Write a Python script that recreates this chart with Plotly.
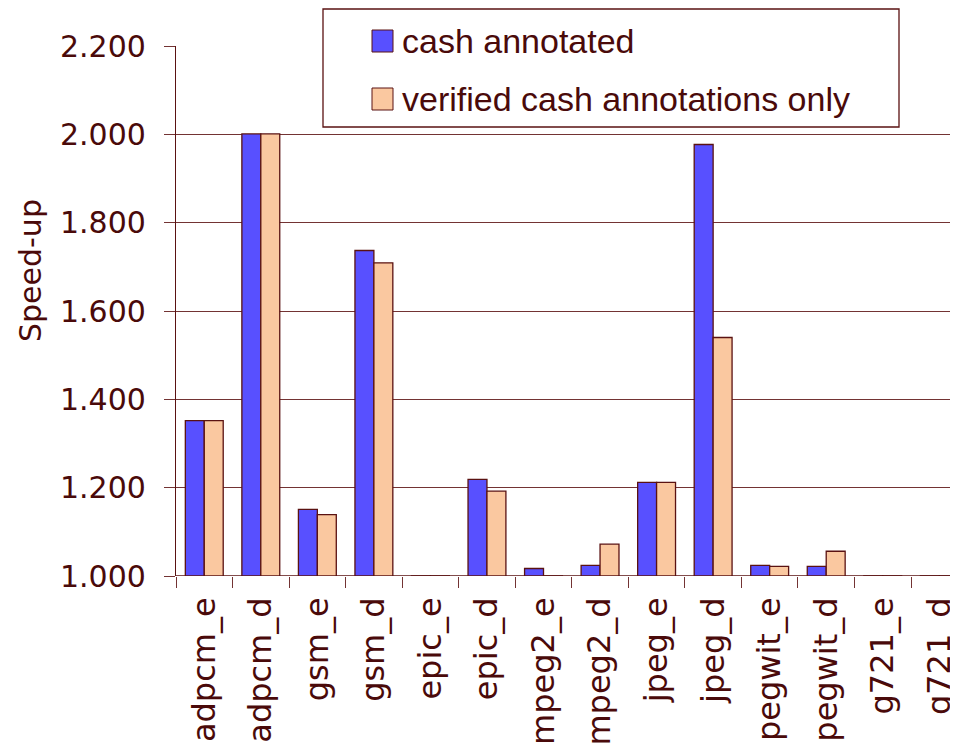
import plotly.graph_objects as go

categories = ["adpcm_e", "adpcm_d", "gsm_e", "gsm_d", "epic_e", "epic_d", "mpeg2_e",
              "mpeg2_d", "jpeg_e", "jpeg_d", "pegwit_e", "pegwit_d", "g721_e", "g721_d"]
cash_annotated = [1.352, 2.001, 1.151, 1.737, 1.000, 1.219, 1.017,
                  1.024, 1.212, 1.977, 1.024, 1.022, 1.000, 1.000]
verified_only = [1.352, 2.001, 1.139, 1.709, 1.000, 1.192, 1.000,
                 1.072, 1.212, 1.540, 1.022, 1.056, 1.000, 1.000]
series_names = ["cash annotated", "verified cash annotations only"]
y_ticks = [1.0, 1.2, 1.4, 1.6, 1.8, 2.0, 2.2]

TXT = "#4a0a0a"
LINE = "#5a1212"
GRID = "#733333"
BLUE = "#5850ff"
PEACH = "#fac8a0"

# page offset of the figure inside the browser page (default body margin)
OFF = 8
W, H = 958, 747
ML, MT = 176 - OFF, 46 - OFF
MB = H - (576 - OFF)
MR = 0
PW, PH = W - ML - MR, H - MT - MB


def px_x(sx):
    return (sx - OFF - ML) / PW


def px_y(sy):
    return (H - MB - (sy - OFF)) / PH


fig = go.Figure()
fig.add_trace(go.Bar(x=categories, y=cash_annotated, name=series_names[0],
                     marker=dict(color=BLUE, line=dict(color=LINE, width=1.3)),
                     showlegend=False))
fig.add_trace(go.Bar(x=categories, y=verified_only, name=series_names[1],
                     marker=dict(color=PEACH, line=dict(color=LINE, width=1.3)),
                     showlegend=False))

fig.update_layout(
    width=W, height=H,
    margin=dict(l=ML, r=MR, t=MT, b=MB, autoexpand=False),
    paper_bgcolor="white", plot_bgcolor="white",
    barmode="group", bargap=0.33, bargroupgap=0,
    font=dict(family="Liberation Sans, Arial, sans-serif", color=TXT, size=26),
    showlegend=False,
    xaxis=dict(type="category", range=[-0.5, -0.5 + PW / 56.54], tickson="boundaries",
               automargin=False,
               ticks="outside", ticklen=11, tickcolor=GRID, tickwidth=1.2,
               tickangle=-90, showgrid=False, showline=False,
               ticklabelstandoff=14,
               tickfont=dict(size=32, color=TXT, family="DejaVu Sans, sans-serif")),
    yaxis=dict(range=[1.0, 2.2], tickvals=y_ticks, tickformat=".3f",
               automargin=False,
               ticks="outside", ticklen=11, tickcolor=GRID, tickwidth=1.2,
               showgrid=True, gridcolor=GRID, gridwidth=1.2,
               showline=True, linecolor=LINE, linewidth=1.3,
               zeroline=False, ticklabelstandoff=12,
               tickfont=dict(size=30, color=TXT, family="DejaVu Sans, sans-serif")),
)
# legend frame
fig.add_shape(type="rect", xref="paper", yref="paper",
              x0=px_x(323), x1=px_x(899), y0=px_y(127), y1=px_y(9),
              fillcolor="white", line=dict(color=LINE, width=1.3), layer="above")
# legend entries
for i, (name, col) in enumerate(zip(series_names, [BLUE, PEACH])):
    top = 30 + i * 58
    fig.add_shape(type="rect", xref="paper", yref="paper",
                  x0=px_x(372), x1=px_x(393), y0=px_y(top + 22), y1=px_y(top),
                  fillcolor=col, line=dict(color=LINE, width=1), layer="above")
    fig.add_annotation(text=name, xref="paper", yref="paper",
                       x=px_x(400), y=px_y(top + 11), showarrow=False,
                       xanchor="left", yanchor="middle",
                       font=dict(size=34, color=TXT,
                                 family="Liberation Sans, Arial, sans-serif"))
# baseline axis line
fig.add_shape(type="line", xref="paper", yref="y", x0=0, x1=1, y0=1.0, y1=1.0,
              line=dict(color=LINE, width=1.5), layer="above")
# y-axis title
fig.add_annotation(text="Speed-up", xref="paper", yref="paper",
                   x=px_x(30), y=px_y(271), textangle=-90, showarrow=False,
                   xanchor="center", yanchor="middle",
                   font=dict(size=30, color=TXT, family="DejaVu Sans, sans-serif"))

fig.write_html("out.html")
